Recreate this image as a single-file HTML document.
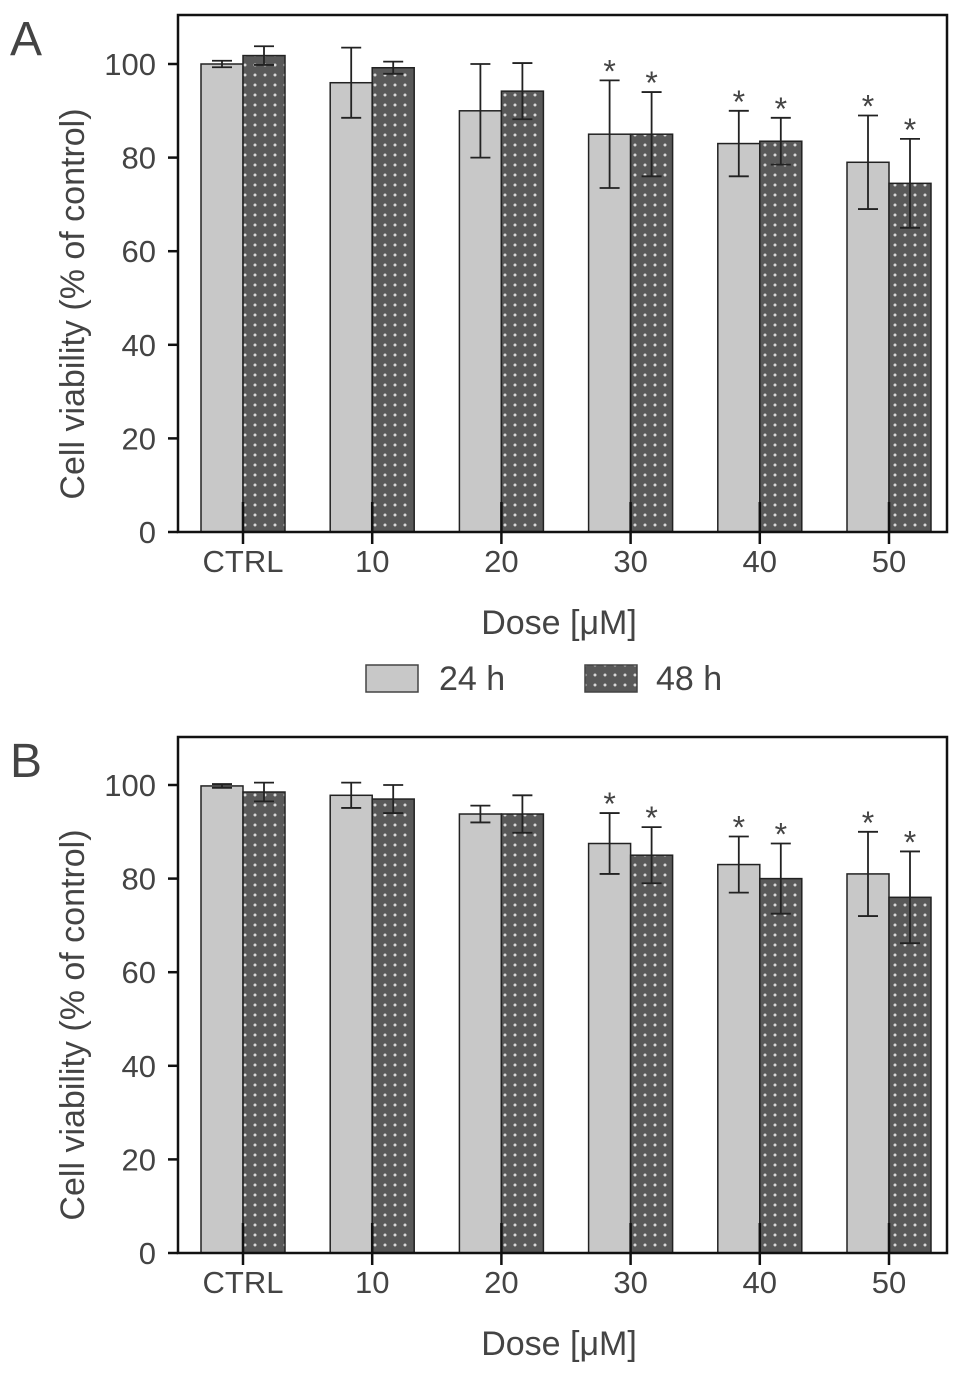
<!DOCTYPE html>
<html><head><meta charset="utf-8"><style>
html,body{margin:0;padding:0;background:#fff;}
svg text{font-family:"Liberation Sans",sans-serif;fill:#444;}
</style></head><body>
<svg id="fig" width="969" height="1370" xmlns="http://www.w3.org/2000/svg">
<defs>
<pattern id="dots" width="10" height="10" patternUnits="userSpaceOnUse">
<rect width="10" height="10" fill="#595959"/>
<circle cx="5" cy="5" r="1.5" fill="#d8d8d8"/>
</pattern>
</defs>
</svg>
<script>
const categories=["CTRL","10","20","30","40","50"];
const yTicks=[0,20,40,60,80,100];
const a24=[100,96,90,85,83,79];
const a24err=[0.7,7.5,10,11.5,7,10];
const a48=[101.8,99.2,94.2,85,83.5,74.5];
const a48err=[2,1.3,6,9,5,9.5];
const aSig24=[false,false,false,true,true,true];
const aSig48=[false,false,false,true,true,true];
const b24=[99.8,97.8,93.8,87.5,83,81];
const b24err=[0.4,2.7,1.8,6.5,6,9];
const b48=[98.5,97,93.8,85,80,76];
const b48err=[2,3,4,6,7.5,9.8];
const bSig24=[false,false,false,true,true,true];
const bSig48=[false,false,false,true,true,true];

const svg=document.getElementById('fig');
const NS='http://www.w3.org/2000/svg';
function mk(tag,attrs,parent){const e=document.createElementNS(NS,tag);for(const k in attrs)e.setAttribute(k,attrs[k]);(parent||svg).appendChild(e);return e;}

function panel(letter,top,bottom,v24,e24,v48,e48,s24,s48,key){
  const L=178,R=947;
  const g=mk('g',{});
  
  
  const y0=bottom, pxPer=4.68;
  const y=v=>y0-v*pxPer;
  const xc=i=>243+i*129.2;
  const bw=42;
  const lt=mk('text',{x:10,y:top+40,'font-size':48},g);lt.textContent=letter;
  
  
  yTicks.forEach(t=>{
    const l=mk('line',{x1:L-10,x2:L,y1:y(t),y2:y(t),stroke:'#111','stroke-width':2.5},g);
    
    
    const tx=mk('text',{x:156,y:y(t)+11,'font-size':31,'text-anchor':'end'},g);tx.textContent=t;
    
    
  });
  const yt=mk('text',{x:0,y:0,'font-size':34,'text-anchor':'middle',transform:`translate(84,${(y(0)+y(100))/2+6}) rotate(-90)`},g);
  yt.textContent='Cell viability (% of control)';
  
  
  categories.forEach((c,i)=>{
    const cx=xc(i);
    [[v24,e24,s24,cx-bw,'#c8c8c8','24h'],[v48,e48,s48,cx,'url(#dots)','48h']].forEach(([v,e,s,x,f,n])=>{
      const b=mk('rect',{x:x,y:y(v[i]),width:bw,height:y(0)-y(v[i]),fill:f,stroke:'#222','stroke-width':1.5},g);
      
      
      const m=x+bw/2;
      const eb=mk('path',{d:`M${m},${y(v[i]+e[i])}V${y(v[i]-e[i])}M${m-10},${y(v[i]+e[i])}H${m+10}M${m-10},${y(v[i]-e[i])}H${m+10}`,stroke:'#222','stroke-width':1.8,fill:'none'},g);
      
      
      if(s[i]){const st=mk('text',{x:m,y:y(v[i]+e[i])+2,'font-size':32,'text-anchor':'middle',fill:'#222'},g);st.textContent='*';
        
        }
    });
    const tk=mk('line',{x1:cx,x2:cx,y1:y(0)-30,y2:y(0)+12,stroke:'#111','stroke-width':2.5},g);
    
    
    const tl=mk('text',{x:cx,y:y(0)+40,'font-size':31,'text-anchor':'middle'},g);tl.textContent=c;
    
    
  });
  const bx=mk('rect',{x:L,y:top,width:R-L,height:bottom-top,fill:'none',stroke:'#111','stroke-width':2.5},g);
  
  
  const xt=mk('text',{x:559,y:bottom+102,'font-size':34,'text-anchor':'middle'},g);xt.textContent='Dose [μM]';
  
  
}
panel('A',15,532,a24,a24err,a48,a48err,aSig24,aSig48,'a');
panel('B',737,1253,b24,b24err,b48,b48err,bSig24,bSig48,'b');

const lg=mk('g',{});


const l1=mk('rect',{x:366,y:665,width:52,height:27,fill:'#c8c8c8',stroke:'#444','stroke-width':1.5},lg);


const t1=mk('text',{x:439,y:690,'font-size':34},lg);t1.textContent='24 h';


const l2=mk('rect',{x:585,y:665,width:52,height:27,fill:'url(#dots)',stroke:'#444','stroke-width':1.5},lg);


const t2=mk('text',{x:656,y:690,'font-size':34},lg);t2.textContent='48 h';


</script>
</body></html>
